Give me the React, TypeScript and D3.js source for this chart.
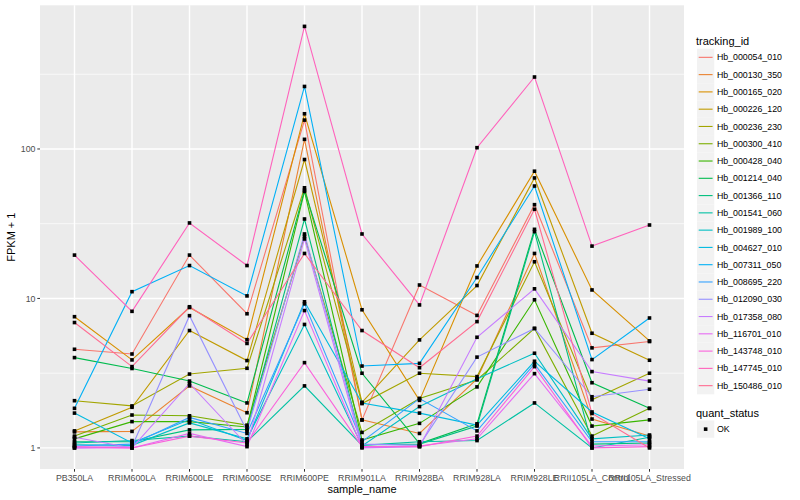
import React from "react";
import * as d3 from "d3";

const samples = ["PB350LA","RRIM600LA","RRIM600LE","RRIM600SE","RRIM600PE","RRIM901LA","RRIM928BA","RRIM928LA","RRIM928LE","RRII105LA_Control","RRII105LA_Stressed"];

const trackingIds = ["Hb_000054_010","Hb_000130_350","Hb_000165_020","Hb_000226_120","Hb_000236_230","Hb_000300_410","Hb_000428_040","Hb_001214_040","Hb_001366_110","Hb_001541_060","Hb_001989_100","Hb_004627_010","Hb_007311_050","Hb_008695_220","Hb_012090_030","Hb_017358_080","Hb_116701_010","Hb_143748_010","Hb_147745_010","Hb_150486_010"];

const colors = ["#F8766D","#EA8331","#D89000","#C09B00","#A3A500","#7CAE00","#39B600","#00BB4E","#00BF7D","#00C1A3","#00BFC4","#00BAE0","#00B0F6","#35A2FF","#9590FF","#C77CFF","#E76BF3","#FA62DB","#FF62BC","#FF6C91"];

// FPKM + 1 per tracking id, in sample order
const s000054 = [4.57, 4.25, 19.5, 7.9, 156, 1.54, 12.3, 7.7, 42.4, 4.67, 5.15];
const s000130 = [1.28, 1.29, 2.6, 1.72, 116, 1.54, 1.25, 2.9, 20, 1.56, 1.2];
const s000165 = [7.55, 3.88, 8.7, 5.3, 172, 8.4, 2.08, 16.5, 71, 11.4, 5.2];
const s000226 = [1.3, 1.87, 6.1, 3.84, 85, 2.02, 5.28, 12.2, 64, 5.85, 3.86];
const s000236 = [2.07, 1.91, 3.12, 3.41, 55, 1.98, 3.16, 3.0, 17.6, 2.1, 3.16];
const s000300 = [1.2, 1.66, 1.64, 1.42, 26, 1.27, 2.14, 2.85, 6.3, 1.2, 1.84];
const s000428 = [1.15, 1.5, 1.5, 1.38, 52, 1.13, 1.46, 2.56, 9.8, 1.4, 1.54];
const s001214 = [4.02, 3.4, 2.8, 2.0, 53, 3.16, 1.07, 1.45, 29, 2.73, 1.84];
const s001366 = [1.1, 1.1, 1.32, 1.33, 34, 1.05, 1.06, 1.4, 28, 1.06, 1.08];
const s001541 = [1.08, 1.12, 1.2, 1.1, 2.6, 1.04, 1.1, 1.12, 2.0, 1.0, 1.18];
const s001989 = [1.05, 1.04, 1.47, 1.15, 6.7, 1.03, 1.89, 2.9, 4.3, 1.15, 1.22];
const s004627 = [1.71, 1.08, 1.55, 1.12, 9.5, 2.0, 1.71, 1.42, 3.8, 1.74, 1.15];
const s007311 = [1.84, 11.1, 16.6, 10.4, 262, 3.53, 3.68, 13.8, 56.5, 3.9, 7.4];
const s008695 = [1.03, 1.06, 1.6, 1.25, 9.2, 1.1, 2.14, 1.3, 3.65, 1.1, 1.1];
const s012090 = [1.0, 1.02, 7.67, 1.3, 27, 1.06, 1.04, 4.05, 6.3, 2.2, 2.47];
const s017358 = [1.18, 1.0, 2.7, 1.05, 25, 1.0, 1.02, 5.5, 11.6, 3.24, 2.8];
const s116701 = [1.0, 1.0, 1.25, 1.02, 8.3, 1.01, 1.03, 1.15, 3.14, 1.03, 1.05];
const s143748 = [1.02, 1.0, 1.2, 1.08, 3.72, 1.02, 1.02, 1.2, 3.5, 1.0, 1.02];
const s147745 = [19.5, 8.2, 32, 16.6, 661, 27, 9.05, 102, 303, 22.4, 31];
const s150486 = [6.9, 3.5, 8.8, 5.0, 20, 6.1, 3.44, 7.0, 39.5, 1.7, 1.0];

const seriesValues = [s000054,s000130,s000165,s000226,s000236,s000300,s000428,s001214,s001366,s001541,s001989,s004627,s007311,s008695,s012090,s017358,s116701,s143748,s147745,s150486];

const yTicks = [1, 10, 100];
const yMinor = [Math.sqrt(10), Math.sqrt(1000), Math.sqrt(100000)];

const FONT = "'Liberation Sans', Arial, Helvetica, sans-serif";

export default function App() {
  const W = 800, H = 500;
  const pl = 40, pr = 684, pt = 5.3, pb = 469;

  const all = seriesValues.flat();
  const lo = Math.log10(d3.min(all) as number);
  const hi = Math.log10(d3.max(all) as number);
  const pad = 0.05 * (hi - lo);
  const y = d3.scaleLog().domain([Math.pow(10, lo - pad), Math.pow(10, hi + pad)]).range([pb, pt]);
  const x = d3.scalePoint<string>().domain(samples).range([pl, pr]).padding(0.6);

  const line = d3.line<number>().x((_, i) => x(samples[i]) as number).y(v => y(v));

  const keyH = 17.28;
  const legX = 697;
  const legY0 = 48.7;

  return (
    <svg width={W} height={H} style={{ position: "absolute", left: 0, top: 0, background: "#fff" }} fontFamily={FONT}>
      <rect x={pl} y={pt} width={pr - pl} height={pb - pt} fill="#EBEBEB" />
      {yMinor.filter(v => y(v) > pt && y(v) < pb).map((v, i) => (
        <line key={"mi" + i} x1={pl} x2={pr} y1={y(v)} y2={y(v)} stroke="#fff" strokeWidth={0.7} />
      ))}
      {yTicks.map((v, i) => (
        <line key={"ma" + i} x1={pl} x2={pr} y1={y(v)} y2={y(v)} stroke="#fff" strokeWidth={1.4} />
      ))}
      {samples.map(s => (
        <line key={"vx" + s} x1={x(s)} x2={x(s)} y1={pt} y2={pb} stroke="#fff" strokeWidth={1.4} />
      ))}
      {seriesValues.map((vals, i) => (
        <path key={"l" + i} d={line(vals) as string} fill="none" stroke={colors[i]} strokeWidth={1.1} />
      ))}
      {seriesValues.map((vals, i) => vals.map((v, j) => (
        <rect key={"p" + i + "_" + j} x={(x(samples[j]) as number) - 1.8} y={y(v) - 1.8} width={3.6} height={3.6} fill="#000" />
      )))}
      {/* axes */}
      {yTicks.map((v, i) => (
        <g key={"yt" + i}>
          <line x1={pl - 2.7} x2={pl} y1={y(v)} y2={y(v)} stroke="#333" strokeWidth={1} />
          <text x={pl - 4.5} y={y(v)} dy="0.35em" textAnchor="end" fontSize={8.8} fill="#4D4D4D">{v}</text>
        </g>
      ))}
      {samples.map(s => (
        <g key={"xt" + s}>
          <line x1={x(s)} x2={x(s)} y1={pb} y2={pb + 2.7} stroke="#333" strokeWidth={1} />
          <text x={x(s)} y={pb + 11.5} textAnchor="middle" fontSize={8.8} fill="#4D4D4D">{s}</text>
        </g>
      ))}
      <text x={(pl + pr) / 2} y={493} textAnchor="middle" fontSize={11} fill="#000">sample_name</text>
      <text transform={`translate(15,${(pt + pb) / 2}) rotate(-90)`} textAnchor="middle" fontSize={11} fill="#000">FPKM + 1</text>
      {/* legend */}
      <text x={legX - 1} y={44.5} fontSize={11} fill="#000">tracking_id</text>
      {trackingIds.map((id, i) => {
        const yy = legY0 + i * keyH;
        return (
          <g key={"lg" + id}>
            <rect x={legX} y={yy} width={keyH} height={keyH} fill="#F2F2F2" />
            <line x1={legX + 1.7} x2={legX + keyH - 1.7} y1={yy + keyH / 2} y2={yy + keyH / 2} stroke={colors[i]} strokeWidth={1.1} />
            <text x={legX + keyH + 2.6} y={yy + keyH / 2} dy="0.35em" fontSize={8.8} fill="#000">{id}</text>
          </g>
        );
      })}
      <text x={legX - 1} y={416.5} fontSize={11} fill="#000">quant_status</text>
      <rect x={legX} y={420.5} width={keyH} height={keyH} fill="#F2F2F2" />
      <rect x={legX + keyH / 2 - 1.8} y={420.5 + keyH / 2 - 1.8} width={3.6} height={3.6} fill="#000" />
      <text x={legX + keyH + 2.6} y={420.5 + keyH / 2} dy="0.35em" fontSize={8.8} fill="#000">OK</text>
    </svg>
  );
}
